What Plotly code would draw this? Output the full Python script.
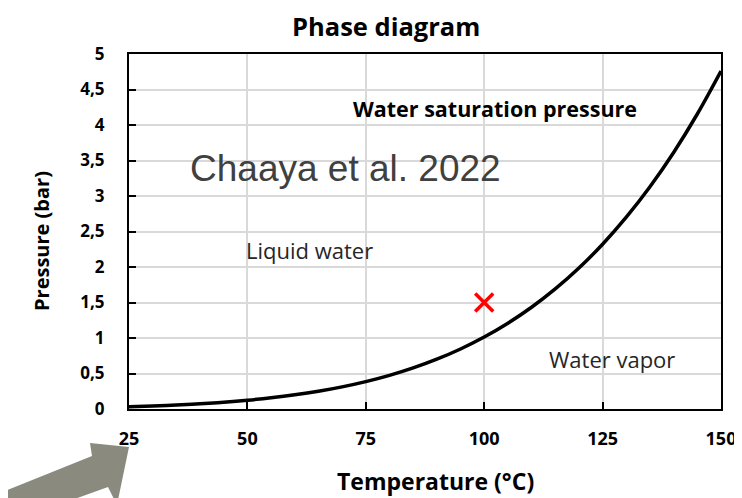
import plotly.graph_objects as go

# Data
temperature_c = [25, 30, 35, 40, 45, 50, 55, 60, 65, 70, 75, 80, 85, 90, 95,
                 100, 105, 110, 115, 120, 125, 130, 135, 140, 145, 150]
pressure_bar = [0.0317, 0.0425, 0.0563, 0.0738, 0.0959, 0.1235, 0.1576, 0.1994,
                0.2503, 0.3119, 0.3858, 0.4739, 0.5783, 0.7014, 0.8455, 1.0135,
                1.2082, 1.4328, 1.6906, 1.9853, 2.3208, 2.7011, 3.1306, 3.6136,
                4.1550, 4.7596]
point_t = [100]
point_p = [1.5]
x_ticks = [25, 50, 75, 100, 125, 150]
x_ticktext = ["25", "50", "75", "100", "125", "150"]
y_ticks = [0, 0.5, 1, 1.5, 2, 2.5, 3, 3.5, 4, 4.5, 5]
y_ticktext = ["0", "0,5", "1", "1,5", "2", "2,5", "3", "3,5", "4", "4,5", "5"]

FONT = "Open Sans"
# The page places the figure 8px in from the window corner; plot-area in screen px:
PL, PR, PT, PB = 129, 721, 54, 409
OFF = 8
W, H = 742 - OFF, 498 - OFF
PW, PH = PR - PL, PB - PT

def px(x):
    return (x - PL) / PW

def py(y):
    return (PB - y) / PH

fig = go.Figure()
fig.add_trace(go.Scatter(x=temperature_c, y=pressure_bar, mode="lines",
                         line=dict(color="black", width=3.5, shape="spline"),
                         showlegend=False, hoverinfo="skip"))
fig.add_trace(go.Scatter(x=point_t, y=point_p, mode="markers",
                         marker=dict(symbol="x-thin", size=18, color="red",
                                     line=dict(color="red", width=3.5)),
                         showlegend=False))

# Arrow polygon (screen pixel outline converted to paper)
arrow_px = [(-5, 495), (92, 456), (90, 443), (129, 447), (117, 505), (108, 487), (58, 505), (-5, 505)]
path = "M " + " L ".join(f"{px(x):.4f},{py(y):.4f}" for x, y in arrow_px) + " Z"
fig.add_shape(type="path", path=path, xref="paper", yref="paper",
              fillcolor="#8a8b7e", line=dict(width=0), layer="above")

def note(xs, ys, text, size, color="black", angle=0, family=FONT):
    fig.add_annotation(x=px(xs), y=py(ys), xref="paper", yref="paper",
                       xanchor="center", yanchor="middle", text=text,
                       showarrow=False, textangle=angle, borderpad=0,
                       font=dict(family=family, size=size, color=color))

note(495, 108, "<b>Water saturation pressure</b>", 21.5)
note(345, 168, "Chaaya et al. 2022", 37, "#404040", family="Liberation Sans")
note(309, 250, "Liquid water", 22, "#262626")
note(612, 359, "Water vapor", 22, "#262626")
note(435, 481, "<b>Temperature (°C)</b>", 23)
note(41, 241, "<b>Pressure (bar)</b>", 20, angle=-90)
note(386, 25.5, "<b>Phase diagram</b>", 25.5)

fig.update_layout(
    width=W, height=H,
    margin=dict(l=PL - OFF, r=W - (PR - OFF), t=PT - OFF, b=H - (PB - OFF), autoexpand=False),
    paper_bgcolor="white", plot_bgcolor="white",
    xaxis=dict(range=[25, 150], tickvals=x_ticks, ticktext=x_ticktext,
               showgrid=True, gridcolor="#d9d9d9", gridwidth=1.5,
               showline=True, linecolor="black", linewidth=2, mirror=True,
               ticks="inside", ticklen=7, tickcolor="black", tickwidth=2,
               ticklabelstandoff=12, automargin=False,
               tickfont=dict(family=FONT, size=18, color="black", weight="bold"),
               zeroline=False),
    yaxis=dict(range=[0, 5], tickvals=y_ticks, ticktext=y_ticktext,
               showgrid=True, gridcolor="#d9d9d9", gridwidth=1.5,
               showline=True, linecolor="black", linewidth=2, mirror=True,
               ticks="inside", ticklen=7, tickcolor="black", tickwidth=2,
               ticklabelstandoff=19, automargin=False,
               tickfont=dict(family=FONT, size=17, color="black", weight="bold"),
               zeroline=False),
)

fig.write_html("out.html")
